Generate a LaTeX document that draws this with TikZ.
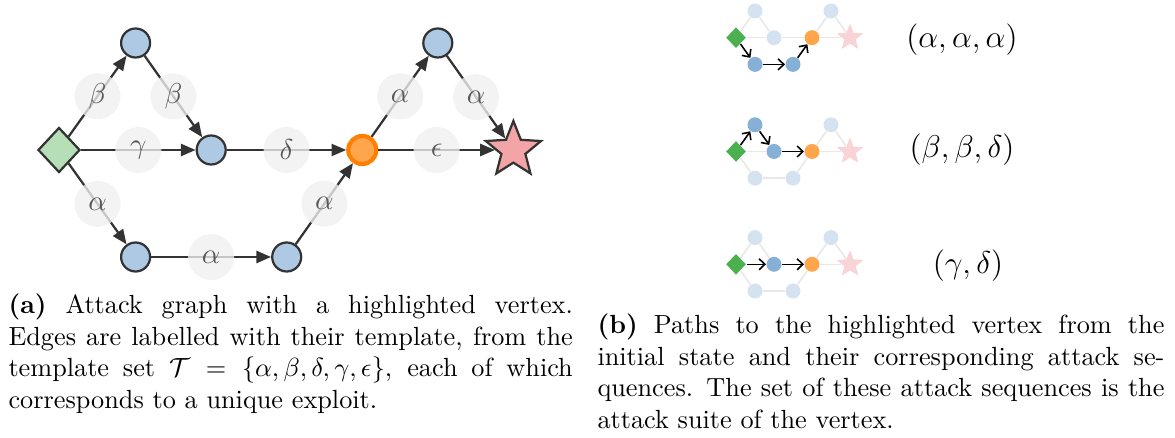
\documentclass[tikz,border=0pt]{standalone}
\usepackage{amsmath}
\usetikzlibrary{shapes.geometric,arrows.meta}

\definecolor{edgedark}{RGB}{51,51,51}
\definecolor{vblue}{RGB}{174,201,227}
\definecolor{vgreen}{RGB}{183,223,183}
\definecolor{vorange}{RGB}{255,166,77}
\definecolor{vorangeline}{RGB}{255,128,0}
\definecolor{vred}{RGB}{243,164,166}
\definecolor{lblfill}{RGB}{240,240,240}
\definecolor{sgreen}{RGB}{76,175,80}
\definecolor{sblue}{RGB}{134,176,214}
\definecolor{sfadeblue}{RGB}{213,227,240}
\definecolor{sorange}{RGB}{255,166,77}
\definecolor{sfadestar}{RGB}{249,212,214}
\definecolor{sfadeedge}{RGB}{232,232,232}

\def\px{0.381pt}

\tikzset{
  vertex/.style={circle, draw=edgedark, fill=vblue, line width=0.85pt,
    minimum size=29*\px, inner sep=0pt},
  initv/.style={diamond, draw=edgedark, fill=vgreen, line width=0.85pt,
    minimum width=42*\px, minimum height=45*\px, inner sep=0pt},
  focusv/.style={circle, draw=vorangeline, fill=vorange, line width=1.6pt,
    minimum size=28*\px, inner sep=0pt},
  goalv/.style={star, star points=5, star point ratio=2.3, draw=edgedark,
    fill=vred, line width=0.85pt, minimum size=58*\px, inner sep=0pt},
  arc/.style={draw=edgedark, line width=0.85pt,
    -{Triangle[length=5.6pt,width=4.6pt]}},
  lbl/.style={circle, fill=lblfill, fill opacity=0.78, text opacity=1,
    text=black!65, minimum size=46*\px, inner sep=0pt,
    font=\fontsize{11}{13}\selectfont},
  mvert/.style={circle, minimum size=15*\px, inner sep=0pt},
  minit/.style={diamond, fill=sgreen, minimum width=20*\px,
    minimum height=21*\px, inner sep=0pt},
  mfocus/.style={circle, fill=sorange, minimum size=15*\px, inner sep=0pt},
  mgoal/.style={star, star points=5, star point ratio=2.3, fill=sfadestar,
    minimum size=28*\px, inner sep=0pt},
  mfade/.style={draw=sfadeedge, line width=0.6pt},
  mpath/.style={draw=black, line width=0.6pt,
    -{Straight Barb[length=2.2pt,width=4.2pt]}},
  seq/.style={font=\large, inner sep=0pt},
  capt/.style={anchor=base west, inner sep=0pt},
}

% small copy of the attack graph; #1 prefix, #2 vertical centre,
% #3..#6 fills of the upper, middle, lower-left and lower-right vertices
\newcommand{\minigraph}[6]{%
  \node[minit]           (#1d)  at (736,#2) {};
  \node[mvert, fill=#3]  (#1t1) at (755,#2-26.7) {};
  \node[mvert, fill=#4]  (#1m)  at (774,#2) {};
  \node[mvert, fill=#5]  (#1b1) at (755,#2+26.7) {};
  \node[mvert, fill=#6]  (#1b2) at (793,#2+26.7) {};
  \node[mfocus]          (#1o)  at (812,#2) {};
  \node[mvert, fill=sfadeblue] (#1t2) at (831,#2-26.7) {};
  \node[mgoal]           (#1s)  at (850,#2) {};
  \draw[mfade] (#1o) -- (#1t2);
  \draw[mfade] (#1t2) -- (#1s);
  \draw[mfade] (#1o) -- (#1s);
}

\begin{document}
\begin{tikzpicture}[x=0.381pt, y=-0.381pt]
\useasboundingbox (0,0) rectangle (1175,438);

% ---------- attack graph ----------
\node[initv]  (s)  at (59,150) {};
\node[vertex] (a)  at (135.6,43) {};
\node[vertex] (m)  at (211.2,150) {};
\node[vertex] (b1) at (135.6,257) {};
\node[vertex] (b2) at (286.7,257) {};
\node[focusv] (h)  at (362.3,150) {};
\node[vertex] (c)  at (437.8,43) {};
\node[goalv]  (g)  at (513.4,150) {};

\draw[arc] (s)  -- node[lbl] {$\beta$}    (a);
\draw[arc] (a)  -- node[lbl] {$\beta$}    (m);
\draw[arc] (s)  -- node[lbl] {$\gamma$}   (m);
\draw[arc] (s)  -- node[lbl] {$\alpha$}   (b1);
\draw[arc] (b1) -- node[lbl] {$\alpha$}   (b2);
\draw[arc] (b2) -- node[lbl] {$\alpha$}   (h);
\draw[arc] (m)  -- node[lbl] {$\delta$}   (h);
\draw[arc] (h)  -- node[lbl] {$\alpha$}   (c);
\draw[arc] (c)  -- node[lbl] {$\alpha$}   (g);
\draw[arc] (h)  -- node[lbl] {$\epsilon$} (g);

% ---------- paths to the highlighted vertex ----------
\minigraph{p}{37.7}{sfadeblue}{sfadeblue}{sblue}{sblue}
\draw[mfade] (pd) -- (pt1);
\draw[mfade] (pt1) -- (pm);
\draw[mfade] (pd) -- (pm);
\draw[mfade] (pm) -- (po);
\draw[mpath] (pd) -- (pb1);
\draw[mpath] (pb1) -- (pb2);
\draw[mpath] (pb2) -- (po);
\node[seq] (qa) at (962,40) {$(\alpha,\alpha,\alpha)$};

\minigraph{q}{151.5}{sblue}{sblue}{sfadeblue}{sfadeblue}
\draw[mfade] (qd) -- (qb1);
\draw[mfade] (qb1) -- (qb2);
\draw[mfade] (qb2) -- (qo);
\draw[mfade] (qd) -- (qm);
\draw[mpath] (qd) -- (qt1);
\draw[mpath] (qt1) -- (qm);
\draw[mpath] (qm) -- (qo);
\node[seq] (qb) at (962,150) {$(\beta,\beta,\delta)$};

\minigraph{r}{264.3}{sfadeblue}{sblue}{sfadeblue}{sfadeblue}
\draw[mfade] (rd) -- (rt1);
\draw[mfade] (rt1) -- (rm);
\draw[mfade] (rd) -- (rb1);
\draw[mfade] (rb1) -- (rb2);
\draw[mfade] (rb2) -- (ro);
\draw[mpath] (rd) -- (rm);
\draw[mpath] (rm) -- (ro);
\node[seq] (qc) at (968,266) {$(\gamma,\delta)$};

% ---------- captions ----------
\node[capt] (capa) at (8,314) {\parbox[t]{215pt}{%
\textbf{(a)} Attack graph with a highlighted vertex.\linebreak
Edges are labelled with their template, from the\linebreak
template set $\mathcal{T}=\{\alpha,\beta,\delta,\gamma,\epsilon\}$, each of which\linebreak
corresponds to a unique exploit.}};

\node[capt] (capb) at (597,334) {\parbox[t]{216pt}{%
\textbf{(b)} Paths to the highlighted vertex from the\linebreak
initial state and their corresponding attack se-\linebreak
quences. The set of these attack sequences is the\linebreak
attack suite of the vertex.}};
\end{tikzpicture}
\end{document}
